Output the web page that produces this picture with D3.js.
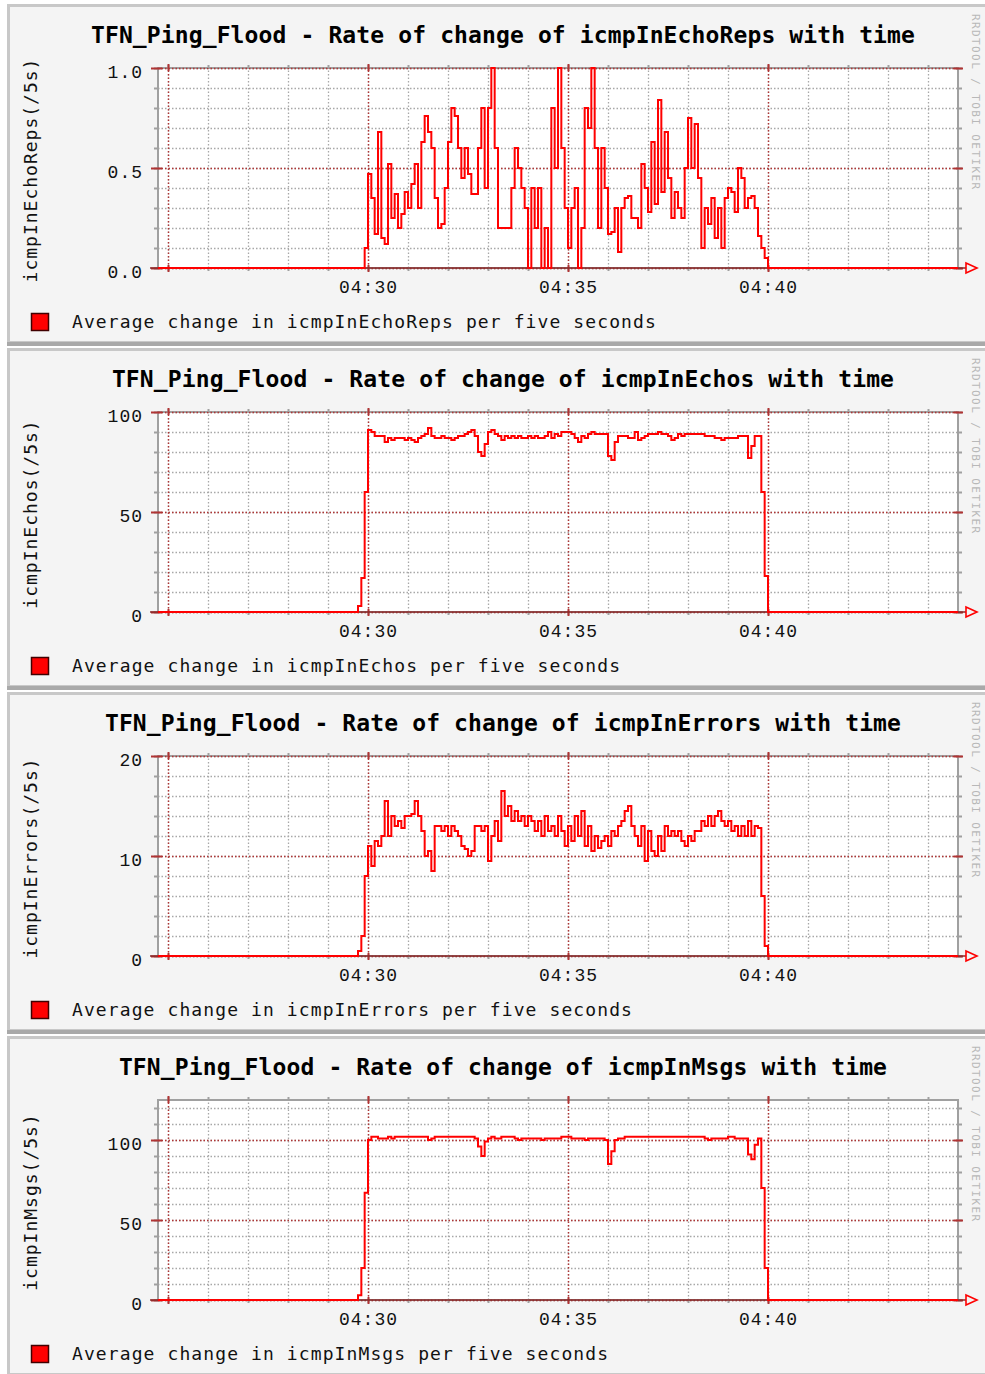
<!DOCTYPE html>
<html>
<head>
<meta charset="utf-8">
<script src="https://cdn.jsdelivr.net/npm/d3@7"></script>
<style>
	body { margin: 0; background: #fff; }
	svg text { font-family: "DejaVu Sans Mono", monospace; }
	svg .num text { font-family: "Liberation Mono", "DejaVu Sans Mono", monospace; }
</style>
</head>
<body>
<div id="chart-area"></div>
<script>

// SVG Size
let width = 985,
	height = 1374;

// chart text
const metrics   = ["icmpInEchoReps", "icmpInEchos", "icmpInErrors", "icmpInMsgs"];
const yLabels   = [["0.0", "0.5", "1.0"], ["0", "50", "100"], ["0", "10", "20"], ["0", "50", "100"]];
const yMajor    = [[0, 0.5, 1], [0, 50, 100], [0, 10, 20], [0, 50, 100]];
const yMax      = [1, 100, 20, 125];
const yMinorStep = [0.1, 10, 2, 10];
const xLabels   = ["04:30", "04:35", "04:40"];

// time window and samples (5 s steps from seriesStart)
const windowStart = "04:24:45",
	windowEnd     = "04:44:45",
	seriesStart   = "04:29:40",
	stepSeconds   = 5;

const echoReps = [
	0, 0, 0, 0.1, 0.47, 0.35, 0.17, 0.68, 0.15, 0.12, 0.52,
	0.25, 0.37, 0.2, 0.27, 0.38, 0.3, 0.42, 0.52, 0.3, 0.63,
	0.76, 0.68, 0.6, 0.35, 0.2, 0.22, 0.4, 0.63, 0.8, 0.76,
	0.6, 0.45, 0.6, 0.47, 0.37, 0.37, 0.6, 0.8, 0.4, 0.8,
	1.0, 0.6, 0.2, 0.2, 0.2, 0.2, 0.4, 0.6, 0.5, 0.4,
	0.3, 0.0, 0.4, 0.2, 0.4, 0.0, 0.2, 0.0, 0.8, 0.5,
	1.0, 0.6, 0.3, 0.1, 0.3, 0.4, 0.0, 0.2, 0.8, 0.7,
	1.0, 0.6, 0.2, 0.6, 0.4, 0.17, 0.18, 0.3, 0.08, 0.3,
	0.35, 0.36, 0.25, 0.25, 0.2, 0.52, 0.4, 0.28, 0.63, 0.32,
	0.84, 0.38, 0.68, 0.45, 0.25, 0.38, 0.3, 0.25, 0.5, 0.75,
	0.5, 0.72, 0.45, 0.1, 0.3, 0.22, 0.35, 0.15, 0.3, 0.1,
	0.35, 0.4, 0.38, 0.28, 0.5, 0.45, 0.3, 0.35, 0.36, 0.3,
	0.16, 0.1, 0.05, 0, 0
];

const echos = [
	0, 3, 17, 60, 91, 90, 88, 88, 88, 85,
	87, 86, 87, 87, 87, 86, 87, 86, 85, 87,
	88, 89, 92, 88, 87, 87, 88, 87, 87, 86,
	87, 88, 88, 89, 90, 91, 88, 80, 78, 84,
	90, 91, 89, 88, 86, 88, 87, 88, 87, 88,
	87, 87, 88, 87, 88, 87, 87, 88, 90, 87,
	89, 88, 90, 90, 90, 89, 87, 85, 88, 87,
	89, 90, 89, 89, 89, 89, 78, 76, 85, 88,
	88, 88, 87, 87, 90, 86, 87, 88, 89, 89,
	89, 90, 89, 89, 88, 86, 87, 89, 88, 89,
	89, 89, 89, 89, 89, 88, 88, 88, 87, 87,
	86, 87, 87, 87, 87, 88, 88, 88, 77, 83,
	88, 88, 60, 18, 0, 0
];

const errors = [
	0, 0.5, 2, 8, 11, 9, 11.5, 11, 12, 15.5,
	12, 14, 13, 13.5, 12.8, 14, 14, 14.2, 15.5, 14,
	12.5, 10, 10.5, 8.5, 13, 13, 12.5, 13, 12, 13,
	12.5, 12, 11, 10.7, 10, 10.5, 13, 13, 12.5, 13,
	9.5, 12, 13.5, 11.5, 16.5, 14, 15, 13.5, 14.5, 13.5,
	14, 13, 14, 13.5, 12.5, 13.5, 12, 14, 12.5, 13,
	12, 14, 12.5, 11, 13, 11.5, 14, 12, 14.5, 11,
	13, 10.5, 12, 10.8, 11.5, 12, 11, 12.5, 12, 13,
	13.5, 14.5, 15, 13, 12, 11, 13, 9.5, 12.5, 10.5,
	10, 12, 10.5, 13, 12, 12.5, 12, 12.5, 11.5, 11,
	12, 11.5, 12.5, 12.5, 13.5, 13, 14, 13, 14, 14.5,
	13.5, 13, 13.5, 12.5, 13, 12, 13, 12, 13.5, 12,
	13, 12.8, 6, 1, 0, 0
];

const msgs = [
	0, 3, 20, 67, 100, 102, 102, 101, 101, 101,
	102, 101, 102, 102, 102, 102, 102, 102, 102, 102,
	102, 102, 100, 101, 102, 102, 102, 102, 102, 102,
	102, 102, 102, 102, 102, 102, 101, 96, 90, 99,
	101, 102, 101, 101, 102, 102, 102, 102, 101, 100,
	101, 101, 101, 101, 101, 101, 100, 101, 101, 101,
	101, 101, 102, 102, 102, 101, 101, 101, 101, 100,
	101, 101, 101, 101, 101, 100, 85, 93, 100, 101,
	101, 102, 102, 102, 102, 102, 102, 102, 102, 102,
	102, 102, 102, 102, 102, 102, 102, 102, 102, 102,
	102, 102, 102, 102, 102, 101, 100, 101, 101, 101,
	101, 101, 102, 102, 101, 101, 101, 101, 91, 88,
	97, 101, 70, 20, 0, 0
];

const seriesList = [echoReps, echos, errors, msgs];

// layout
const panelStep = 344,
	plotLeft = 158,
	plotRight = 958,
	plotTop = 62,
	plotH = 200,
	plotBottom = plotTop + plotH;

const majorColor = "#b03434",
	minorColor = "#a8a8a8",
	frameColor = "#a0a0a0";

const parseTime = d3.utcParse("%H:%M:%S"),
	parseLabel = d3.utcParse("%H:%M");

let x = d3.scaleUtc()
	.domain([parseTime(windowStart), parseTime(windowEnd)])
	.range([plotLeft, plotRight]);

let svg = d3.select("#chart-area")
	.append("svg")
	.attr("width", width)
	.attr("height", height);

svg.append("rect")
	.attr("width", width)
	.attr("height", height)
	.attr("fill", "#fff");

metrics.forEach((metric, n) => draw(metric, n));

function draw(metric, n) {
	let oy = 6 + n * panelStep;
	let g = svg.append("g").attr("transform", "translate(0," + oy + ")");

	// canvas + border
	g.append("rect")
		.attr("x", 8.5).attr("y", -0.5)
		.attr("width", 995).attr("height", 337)
		.attr("fill", "#f4f4f4")
		.attr("stroke", "#c8c8c8")
		.attr("stroke-width", 3);
	g.append("rect")
		.attr("x", 7).attr("y", 336)
		.attr("width", 990).attr("height", 4)
		.attr("fill", "#a9a9a9");

	let y = d3.scaleLinear()
		.domain([0, yMax[n]])
		.range([plotBottom, plotTop]);

	let yMinor = d3.range(0, yMax[n] + 1e-9, yMinorStep[n]);

	// plot background
	g.append("rect")
		.attr("x", plotLeft).attr("y", plotTop)
		.attr("width", plotRight - plotLeft).attr("height", plotH)
		.attr("fill", "#fff");

	// minor grid
	g.append("g")
		.attr("transform", "translate(0," + plotBottom + ")")
		.call(d3.axisBottom(x).ticks(d3.utcMinute.every(1)).tickSize(-plotH).tickFormat(""))
		.call(a => a.select(".domain").remove())
		.selectAll("line")
		.attr("stroke", minorColor).attr("stroke-width", 1.3).attr("stroke-dasharray", "1.5,2");
	g.append("g")
		.attr("transform", "translate(" + plotLeft + ",0)")
		.call(d3.axisLeft(y).tickValues(yMinor).tickSize(-(plotRight - plotLeft)).tickFormat(""))
		.call(a => a.select(".domain").remove())
		.selectAll("line")
		.attr("stroke", minorColor).attr("stroke-width", 1.3).attr("stroke-dasharray", "1.5,2");

	// frame
	g.append("rect")
		.attr("x", plotLeft).attr("y", plotTop)
		.attr("width", plotRight - plotLeft).attr("height", plotH)
		.attr("fill", "none")
		.attr("stroke", frameColor)
		.attr("stroke-width", 2);

	// major grid
	g.append("g")
		.attr("transform", "translate(0," + plotBottom + ")")
		.call(d3.axisBottom(x).ticks(d3.utcMinute.every(5)).tickSize(-plotH).tickFormat(""))
		.call(a => a.select(".domain").remove())
		.selectAll("line")
		.attr("stroke", majorColor).attr("stroke-width", 1.4).attr("stroke-dasharray", "1.5,2");
	g.append("g")
		.attr("transform", "translate(" + plotLeft + ",0)")
		.call(d3.axisLeft(y).tickValues(yMajor[n]).tickSize(-(plotRight - plotLeft)).tickFormat(""))
		.call(a => a.select(".domain").remove())
		.selectAll("line")
		.attr("stroke", majorColor).attr("stroke-width", 1.4).attr("stroke-dasharray", "1.5,2");

	// small tick marks outside the plot
	let tickStyle = (sel, color, w) => sel.call(a => a.select(".domain").remove())
		.selectAll("line").attr("stroke", color).attr("stroke-width", w);

	g.append("g").attr("transform", "translate(0," + plotTop + ")")
		.call(d3.axisTop(x).ticks(d3.utcMinute.every(1)).tickSize(3).tickFormat(""))
		.call(s => tickStyle(s, frameColor, 2));
	g.append("g").attr("transform", "translate(0," + (plotTop + 3) + ")")
		.call(d3.axisTop(x).ticks(d3.utcMinute.every(5)).tickSize(7).tickFormat(""))
		.call(s => tickStyle(s, majorColor, 2));
	g.append("g").attr("transform", "translate(0," + plotBottom + ")")
		.call(d3.axisBottom(x).ticks(d3.utcMinute.every(1)).tickSize(3).tickFormat(""))
		.call(s => tickStyle(s, frameColor, 2));
	g.append("g").attr("transform", "translate(0," + (plotBottom - 3) + ")")
		.call(d3.axisBottom(x).ticks(d3.utcMinute.every(5)).tickSize(7).tickFormat(""))
		.call(s => tickStyle(s, majorColor, 2));
	g.append("g").attr("transform", "translate(" + plotLeft + ",0)")
		.call(d3.axisLeft(y).tickValues(yMinor).tickSize(4).tickFormat(""))
		.call(s => tickStyle(s, frameColor, 2));
	g.append("g").attr("transform", "translate(" + (plotLeft + 4) + ",0)")
		.call(d3.axisLeft(y).tickValues(yMajor[n]).tickSize(11).tickFormat(""))
		.call(s => tickStyle(s, majorColor, 2));
	g.append("g").attr("transform", "translate(" + plotRight + ",0)")
		.call(d3.axisRight(y).tickValues(yMinor).tickSize(4).tickFormat(""))
		.call(s => tickStyle(s, frameColor, 2));
	g.append("g").attr("transform", "translate(" + (plotRight - 4) + ",0)")
		.call(d3.axisRight(y).tickValues(yMajor[n]).tickSize(9).tickFormat(""))
		.call(s => tickStyle(s, majorColor, 2));

	// x axis line + arrow
	g.append("line")
		.attr("x1", plotLeft - 8).attr("x2", plotRight + 8)
		.attr("y1", plotBottom).attr("y2", plotBottom)
		.attr("stroke", "#8a2a2a").attr("stroke-width", 1.6);
	g.append("path")
		.attr("d", "M" + (plotRight + 8) + "," + (plotBottom - 5) + "L" + (plotRight + 19) + "," + plotBottom +
			"L" + (plotRight + 8) + "," + (plotBottom + 5) + "Z")
		.attr("fill", "none").attr("stroke", "#ff0000").attr("stroke-width", 1.6);

	// data line
	let t0 = parseTime(seriesStart);
	let data = [{ t: x.domain()[0], v: 0 }]
		.concat(seriesList[n].map((v, k) => ({ t: d3.utcSecond.offset(t0, k * stepSeconds), v: v })))
		.concat([{ t: x.domain()[1], v: 0 }]);

	let line = d3.line()
		.x(d => x(d.t))
		.y(d => y(d.v))
		.curve(d3.curveStepAfter);

	g.append("path")
		.datum(data)
		.attr("d", line)
		.attr("fill", "none")
		.attr("stroke", "#ff0000")
		.attr("stroke-width", 2);

	// y tick labels
	g.append("g")
		.attr("class", "num")
		.attr("transform", "translate(" + plotLeft + ",0)")
		.call(d3.axisLeft(y).tickValues(yMajor[n]).tickSize(0).tickPadding(15)
			.tickFormat((d, i) => yLabels[n][i]))
		.call(a => a.select(".domain").remove())
		.selectAll("text")
		.attr("dy", "0.5em")
		.style("font-size", "18px")
		.style("letter-spacing", "1px")
		.attr("fill", "#111");

	// x tick labels
	g.append("g")
		.attr("class", "num")
		.attr("transform", "translate(0," + plotBottom + ")")
		.call(d3.axisBottom(x).tickValues(xLabels.map(parseLabel)).tickSize(0).tickPadding(12)
			.tickFormat(d3.utcFormat("%H:%M")))
		.call(a => a.select(".domain").remove())
		.selectAll("text")
		.style("font-size", "18px")
		.style("letter-spacing", "1px")
		.attr("fill", "#111");

	// title
	g.append("text")
		.text("TFN_Ping_Flood - Rate of change of " + metric + " with time")
		.attr("x", 503)
		.attr("y", 37)
		.style("font-size", "23px")
		.style("font-weight", "bold")
		.style("letter-spacing", "0.12px")
		.style("text-anchor", "middle")
		.attr("fill", "#000");

	// y axis name
	g.append("text")
		.text(metric + "(/5s)")
		.attr("transform", "translate(37," + (plotTop + 102) + ") rotate(-90)")
		.style("font-size", "18px")
		.style("letter-spacing", "1px")
		.style("text-anchor", "middle")
		.attr("fill", "#111");

	// legend
	g.append("rect")
		.attr("x", 31.5).attr("y", 307.5)
		.attr("width", 17).attr("height", 17)
		.attr("fill", "#ff0000")
		.attr("stroke", "#400000")
		.attr("stroke-width", 1.5);
	g.append("text")
		.text("Average change in " + metric + " per five seconds")
		.attr("x", 72)
		.attr("y", 322)
		.style("font-size", "18px")
		.style("letter-spacing", "1.1px")
		.attr("fill", "#111");

	// rrdtool credit
	g.append("text")
		.text("RRDTOOL / TOBI OETIKER")
		.attr("transform", "translate(972,8) rotate(90)")
		.style("font-size", "11px")
		.style("letter-spacing", "1.4px")
		.attr("fill", "#b8b8b8");
}
</script>
</body>
</html>
